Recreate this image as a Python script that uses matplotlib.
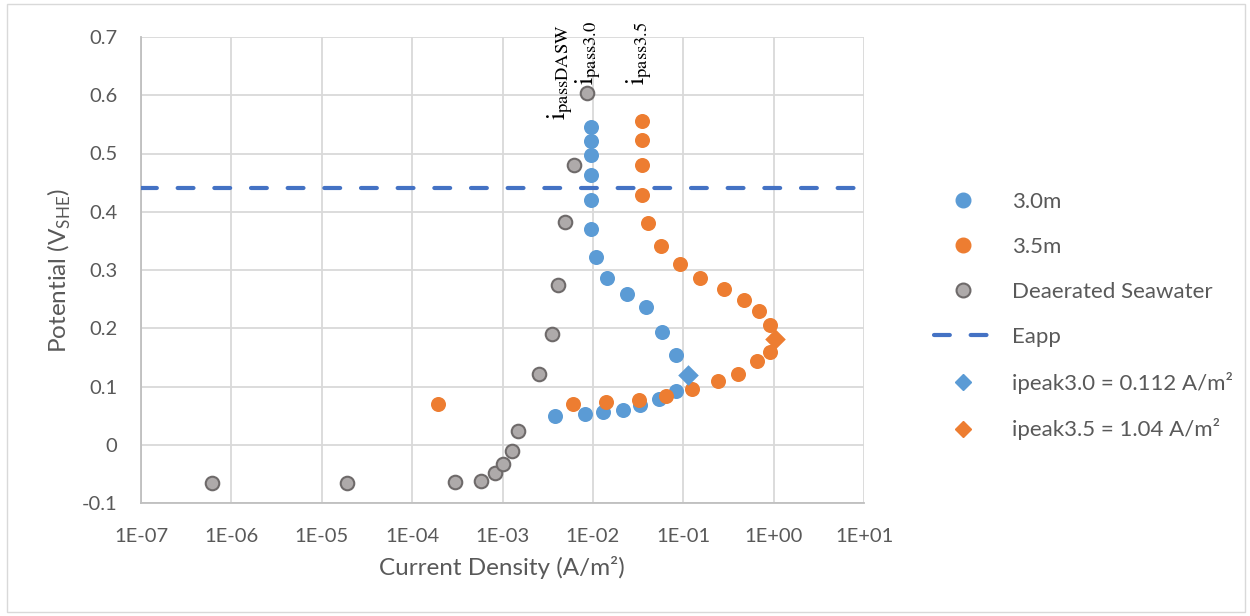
import matplotlib
matplotlib.use('Agg')
import matplotlib.pyplot as plt
from matplotlib.lines import Line2D
from matplotlib.patches import Rectangle

plt.rcParams['font.family'] = ['Lato', 'DejaVu Sans']
plt.rcParams['mathtext.fontset'] = 'custom'
plt.rcParams['mathtext.rm'] = 'Lato'

# 3.0 m series
i30 = [0.0096, 0.0096, 0.0096, 0.0096, 0.0096, 0.0095, 0.0107, 0.0142, 0.0236, 0.039,
       0.058, 0.084, 0.084, 0.054, 0.033, 0.0217, 0.013, 0.0081, 0.0038]
E30 = [0.546, 0.522, 0.497, 0.463, 0.420, 0.371, 0.322, 0.287, 0.258, 0.237,
       0.193, 0.154, 0.092, 0.078, 0.068, 0.060, 0.056, 0.053, 0.050]

# 3.5 m series
i35 = [0.035, 0.035, 0.035, 0.035, 0.041, 0.057, 0.093, 0.155, 0.28, 0.47, 0.69,
       0.92, 0.91, 0.66, 0.40, 0.24, 0.126, 0.064, 0.032, 0.014, 0.006, 0.000195]
E35 = [0.556, 0.523, 0.480, 0.429, 0.380, 0.341, 0.310, 0.287, 0.267, 0.248, 0.229,
       0.206, 0.160, 0.143, 0.122, 0.110, 0.095, 0.083, 0.077, 0.073, 0.070, 0.070]

# deaerated seawater
idasw = [6.1e-7, 1.9e-5, 2.96e-4, 5.75e-4, 8.2e-4, 1.0e-3, 1.29e-3, 1.48e-3,
         2.53e-3, 3.56e-3, 4.1e-3, 4.9e-3, 6.2e-3, 8.7e-3]
Edasw = [-0.066, -0.065, -0.064, -0.062, -0.049, -0.033, -0.010, 0.024,
         0.121, 0.190, 0.274, 0.382, 0.480, 0.604]

# peaks and applied potential
ipeak30, Epeak30 = 0.112, 0.120
ipeak35, Epeak35 = 1.04, 0.181
Eapp = 0.44

# passive current labels
pass_labels = ['passDASW', 'pass3.0', 'pass3.5']
pass_x = [0.00436, 0.0090, 0.0327]
pass_y = [0.557, 0.617, 0.617]

xticks = [1e-7, 1e-6, 1e-5, 1e-4, 1e-3, 1e-2, 1e-1, 1e0, 1e1]
xlabels = ['1E-07', '1E-06', '1E-05', '1E-04', '1E-03', '1E-02', '1E-01', '1E+00', '1E+01']
yticks = [-0.1, 0, 0.1, 0.2, 0.3, 0.4, 0.5, 0.6, 0.7]
ylabels = ['-0.1', '0', '0.1', '0.2', '0.3', '0.4', '0.5', '0.6', '0.7']

blue = '#5B9BD5'
orange = '#ED7D31'
gfill = '#AEAAAA'
gedge = '#6E6A6A'
lineblue = '#4472C4'
tc = '#595959'

W, H = 1250, 616
fig = plt.figure(figsize=(12.5, 6.16), dpi=100)
ax = fig.add_axes([141/W, 1-503/H, (864-141)/W, (503-37)/H])

ax.scatter(i30, E30, s=117, color=blue, lw=0, zorder=3)
ax.scatter(i35, E35, s=117, color=orange, lw=0, zorder=4)
ax.scatter(idasw, Edasw, s=95, color=gfill, edgecolor=gedge, lw=1.5, zorder=5)
ax.axhline(Eapp, color=lineblue, lw=3, dashes=(3.8, 5), dash_capstyle='round', zorder=6)
ax.scatter([ipeak30], [Epeak30], s=110, marker='D', color=blue, lw=0, zorder=7)
ax.scatter([ipeak35], [Epeak35], s=110, marker='D', color=orange, lw=0, zorder=7)

for lab, x, y in zip(pass_labels, pass_x, pass_y):
    ax.text(x, y, r'$\mathrm{i}_{\mathrm{%s}}$' % lab, rotation=90, ha='center', va='bottom',
            fontsize=19, math_fontfamily='stix', color='black', zorder=8)

ax.set_xscale('log')
ax.set_xlim(1e-7, 1e1)
ax.set_ylim(-0.1, 0.7)
ax.set_xticks(xticks)
ax.set_xticklabels(xlabels)
ax.set_yticks(yticks)
ax.set_yticklabels(ylabels)
ax.minorticks_off()
ax.tick_params(axis='both', length=0, labelsize=14.5, labelcolor=tc)
ax.tick_params(axis='x', pad=18)
ax.tick_params(axis='y', pad=17)
ax.grid(True, color='#D9D9D9', lw=1.3)
ax.set_axisbelow(True)
for s in ['top', 'right']:
    ax.spines[s].set_visible(False)
for s in ['left', 'bottom']:
    ax.spines[s].set_color('#BFBFBF')
    ax.spines[s].set_linewidth(1.3)

fig.text(502/W, 1-575/H, 'Current Density (A/m²)', ha='center', va='baseline',
         fontsize=17.5, color=tc)
fig.text(59/W, 1-270/H, r'Potential (V$_{\mathrm{SHE}}$)', ha='center', va='center',
         rotation=90, fontsize=17.5, color=tc)

handles = [
    Line2D([], [], ls='none', marker='o', ms=10.5, color=blue),
    Line2D([], [], ls='none', marker='o', ms=10.5, color=orange),
    Line2D([], [], ls='none', marker='o', ms=10, mfc=gfill, mec=gedge, mew=1.5),
    Line2D([], [], color=lineblue, lw=3, dashes=(3.8, 5), dash_capstyle='round'),
    Line2D([], [], ls='none', marker='D', ms=8.5, color=blue),
    Line2D([], [], ls='none', marker='D', ms=8.5, color=orange),
]
labels = ['3.0m', '3.5m', 'Deaerated Seawater', 'Eapp',
          'ipeak3.0 = 0.112 A/m²', 'ipeak3.5 = 1.04 A/m²']
leg = fig.legend(handles, labels, loc='upper left', bbox_to_anchor=(914/W, 1-172/H),
                 frameon=False, fontsize=16, labelspacing=1.12, handlelength=2.6,
                 handletextpad=0.9)
for t in leg.get_texts():
    t.set_color(tc)

fig.patches.append(Rectangle((7/W, 4/H), (1245-7)/W, (612-4)/H, transform=fig.transFigure,
                             fill=False, edgecolor='#D9D9D9', lw=1))

fig.savefig('out.png', dpi=100)
